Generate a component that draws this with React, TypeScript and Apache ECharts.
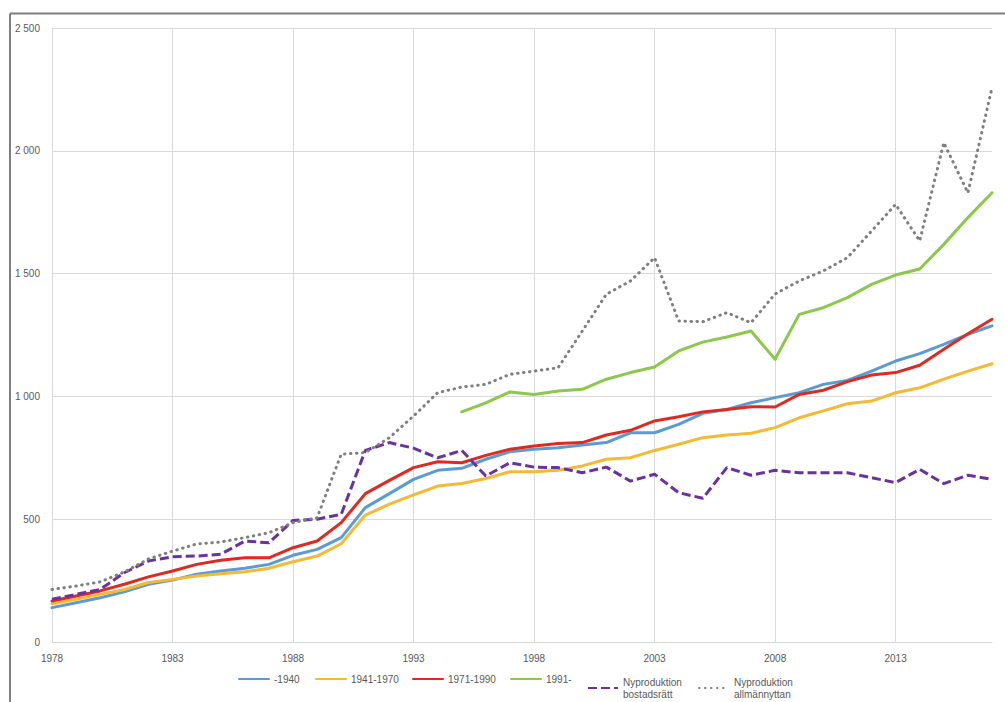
import React, { useEffect, useRef } from "react";
import * as echarts from "echarts";

const years = [
  "1978", "1979", "1980", "1981", "1982", "1983", "1984", "1985", "1986", "1987",
  "1988", "1989", "1990", "1991", "1992", "1993", "1994", "1995", "1996", "1997",
  "1998", "1999", "2000", "2001", "2002", "2003", "2004", "2005", "2006", "2007",
  "2008", "2009", "2010", "2011", "2012", "2013", "2014", "2015", "2016", "2017",
];

const s1940 = [
  140, 160, 180, 204, 235, 252, 276, 289, 300, 316,
  353, 377, 425, 547, 604, 662, 699, 707, 744, 775,
  785, 791, 802, 812, 852, 852, 886, 931, 947, 974,
  995, 1015, 1049, 1065, 1103, 1144, 1174, 1212, 1253, 1287,
];

const s1941_1970 = [
  156, 174, 194, 214, 242, 255, 269, 278, 286, 300,
  327, 350, 400, 517, 561, 599, 635, 645, 666, 693,
  693, 699, 717, 744, 750, 780, 805, 832, 843, 850,
  873, 913, 941, 970, 981, 1015, 1035, 1070, 1103, 1133,
];

const s1971_1990 = [
  167, 187, 208, 235, 265, 289, 316, 333, 343, 343,
  384, 411, 486, 604, 658, 710, 734, 730, 760, 785,
  798, 808, 812, 843, 862, 900, 917, 937, 947, 958,
  957, 1008, 1025, 1060, 1087, 1097, 1127, 1192, 1255, 1314,
];

const s1991 = [
  null, null, null, null, null, null, null, null, null, null,
  null, null, null, null, null, null, null, 937, 974, 1018,
  1008, 1022, 1029, 1070, 1097, 1120, 1185, 1221, 1242, 1266,
  1151, 1334, 1361, 1402, 1456, 1494, 1519, 1619, 1728, 1829,
];

const sBostadsratt = [
  174, 194, 214, 282, 330, 347, 350, 357, 411, 404,
  495, 500, 520, 780, 812, 789, 750, 780, 676, 730,
  712, 710, 689, 712, 655, 683, 608, 585, 710, 679,
  699, 689, 689, 689, 669, 649, 703, 645, 679, 662,
];

const sAllmannyttan = [
  214, 228, 245, 285, 338, 370, 399, 407, 425, 445,
  486, 506, 765, 771, 832, 920, 1015, 1038, 1049, 1090,
  1103, 1117, 1266, 1416, 1470, 1565, 1307, 1304, 1341, 1300,
  1417, 1470, 1511, 1565, 1673, 1782, 1633, 2033, 1829, 2257,
];

const yTicks = { min: 0, max: 2500, interval: 500 };

const NAMES = [
  "-1940",
  "1941-1970",
  "1971-1990",
  "1991-",
  "Nyproduktion\nbostadsrätt",
  "Nyproduktion\nallmännyttan",
];

const FONT = "Liberation Sans";

export default function App() {
  const ref = useRef<HTMLDivElement>(null);

  useEffect(() => {
    if (!ref.current) return;
    const chart = echarts.init(ref.current, undefined, { renderer: "svg" });

    const legendLefts = [238, 315, 412, 510, 587, 698];
    const legends = NAMES.map((name, i) => ({
      data: [
        i >= 4
          ? { name, textStyle: { padding: [6, 0, 0, 0] } }
          : { name },
      ],
      left: legendLefts[i],
      top: 673,
      itemWidth: 30,
      itemHeight: 12,
      itemGap: 0,
      padding: 0,
      selectedMode: false,
      itemStyle: { opacity: 0 },
      textStyle: { color: "#595959", fontSize: 10, fontFamily: FONT, lineHeight: 12 },
    }));

    const solid = (name: string, data: (number | null)[], color: string) => ({
      name,
      type: "line",
      data,
      symbol: "none",
      connectNulls: false,
      lineStyle: { color, width: 3, cap: "round", join: "round" },
      itemStyle: { color },
    });

    chart.setOption({
      animation: false,
      backgroundColor: "#ffffff",
      grid: { left: 52, right: 13, top: 28, bottom: 60, containLabel: false },
      legend: legends,
      xAxis: {
        type: "category",
        data: years,
        boundaryGap: false,
        axisLine: { show: true, lineStyle: { color: "#d9d9d9", width: 1 } },
        axisTick: { show: false },
        axisLabel: {
          interval: 4,
          color: "#595959",
          fontSize: 10,
          fontFamily: FONT,
          margin: 11,
        },
        splitLine: { show: true, interval: 4, lineStyle: { color: "#d9d9d9", width: 1 } },
      },
      yAxis: {
        type: "value",
        min: yTicks.min,
        max: yTicks.max,
        interval: yTicks.interval,
        axisLine: { show: false },
        axisTick: { show: false },
        axisLabel: {
          color: "#595959",
          fontSize: 10,
          fontFamily: FONT,
          margin: 12,
          formatter: (v: number) => {
            const s = String(v);
            return v >= 1000 ? s.slice(0, s.length - 3) + " " + s.slice(-3) : s;
          },
        },
        splitLine: { show: true, lineStyle: { color: "#d9d9d9", width: 1 } },
      },
      graphic: [
        { type: "line", shape: { x1: 10, y1: 13.5, x2: 1005, y2: 13.5 }, style: { stroke: "#7f7f7f", lineWidth: 2 } },
        { type: "line", shape: { x1: 10, y1: 13.5, x2: 10, y2: 702 }, style: { stroke: "#7f7f7f", lineWidth: 2 } },
      ],
      series: [
        solid(NAMES[0], s1940, "#5b9bd5"),
        solid(NAMES[1], s1941_1970, "#f5b935"),
        solid(NAMES[2], s1971_1990, "#e02a1f"),
        solid(NAMES[3], s1991, "#8cc84b"),
        {
          name: NAMES[4],
          type: "line",
          data: sBostadsratt,
          symbol: "none",
          lineStyle: { color: "#6a329f", width: 3, type: [9, 4] },
          itemStyle: { color: "#6a329f" },
        },
        {
          name: NAMES[5],
          type: "line",
          data: sAllmannyttan,
          symbol: "none",
          lineStyle: { color: "#7f7f7f", width: 3, type: [0.5, 5.5], cap: "round" },
          itemStyle: { color: "#7f7f7f" },
        },
      ],
    });

    return () => chart.dispose();
  }, []);

  return (
    <div
      ref={ref}
      style={{ position: "fixed", left: 0, top: 0, width: 1005, height: 702, background: "#fff" }}
    />
  );
}
